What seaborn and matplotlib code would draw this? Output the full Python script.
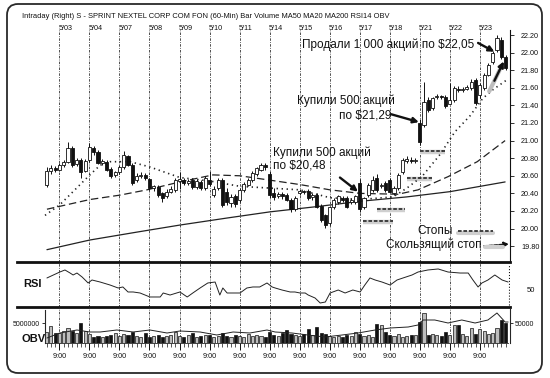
import numpy as np
import pandas as pd
import matplotlib
matplotlib.use("Agg")
import matplotlib.pyplot as plt
import matplotlib.transforms as mtransforms
from matplotlib.patches import FancyBboxPatch
from matplotlib.lines import Line2D
import seaborn as sns

# ---------------- data ----------------
title = "Intraday (Right) S - SPRINT NEXTEL CORP COM FON (60-Min) Bar Volume MA50 MA20 MA200 RSI14 OBV"
days = ["5/03", "5/04", "5/07", "5/08", "5/09", "5/10", "5/11", "5/14",
        "5/15", "5/16", "5/17", "5/18", "5/21", "5/22", "5/23"]
bars_before = 3
bars_per_day = 7

opens = [20.50, 20.66, 20.69,
         20.67, 20.72, 20.76, 20.92, 20.73, 20.78, 20.66,
         20.78, 20.92, 20.87, 20.75, 20.76, 20.68, 20.61,
         20.64, 20.70, 20.82, 20.72, 20.55, 20.60, 20.61,
         20.56, 20.46, 20.47, 20.40, 20.37, 20.42, 20.44,
         20.54, 20.55, 20.52, 20.55, 20.47, 20.53, 20.46,
         20.55, 20.38, 20.46, 20.55, 20.42, 20.29, 20.37,
         20.32, 20.44, 20.50, 20.55, 20.62, 20.67, 20.72,
         20.62, 20.40, 20.37, 20.39, 20.38, 20.33, 20.22,
         20.40, 20.42, 20.43, 20.36, 20.38, 20.26, 20.15,
         20.06, 20.24, 20.30, 20.35, 20.35, 20.30, 20.30,
         20.52, 20.25, 20.38, 20.44, 20.58, 20.48, 20.52,
         20.55, 20.40, 20.46, 20.64, 20.77, 20.78, 20.77,
         21.20, 21.18, 21.46, 21.37, 21.49, 21.50, 21.50,
         21.42, 21.46, 21.59, 21.57, 21.59, 21.60, 21.69,
         21.52, 21.60, 21.75, 21.89, 22.03, 22.14, 21.95]
highs = [20.70, 20.72, 20.71,
         20.74, 20.78, 20.98, 20.94, 20.80, 20.80, 20.79,
         20.97, 20.94, 20.89, 20.79, 20.78, 20.70, 20.66,
         20.72, 20.88, 20.84, 20.74, 20.63, 20.64, 20.63,
         20.58, 20.50, 20.49, 20.42, 20.45, 20.48, 20.57,
         20.64, 20.57, 20.56, 20.57, 20.56, 20.55, 20.60,
         20.66, 20.48, 20.58, 20.57, 20.46, 20.39, 20.39,
         20.46, 20.53, 20.57, 20.65, 20.70, 20.74, 20.74,
         20.66, 20.46, 20.42, 20.41, 20.40, 20.35, 20.37,
         20.45, 20.44, 20.45, 20.40, 20.40, 20.28, 20.17,
         20.26, 20.35, 20.38, 20.37, 20.37, 20.35, 20.38,
         20.56, 20.36, 20.52, 20.60, 20.62, 20.52, 20.54,
         20.57, 20.48, 20.63, 20.80, 20.82, 20.81, 20.80,
         21.24, 21.67, 21.50, 21.50, 21.53, 21.52, 21.52,
         21.66, 21.62, 21.62, 21.61, 21.63, 21.70, 21.71,
         21.65, 21.77, 21.88, 22.02, 22.20, 22.18, 21.97]
lows = [20.47, 20.62, 20.64,
        20.65, 20.70, 20.74, 20.70, 20.71, 20.58, 20.64,
        20.76, 20.84, 20.73, 20.72, 20.66, 20.58, 20.59,
        20.62, 20.68, 20.71, 20.50, 20.53, 20.57, 20.55,
        20.44, 20.43, 20.36, 20.30, 20.35, 20.40, 20.42,
        20.45, 20.50, 20.49, 20.45, 20.45, 20.44, 20.44,
        20.48, 20.36, 20.44, 20.25, 20.27, 20.25, 20.24,
        20.30, 20.42, 20.48, 20.53, 20.60, 20.65, 20.67,
        20.35, 20.33, 20.35, 20.34, 20.31, 20.19, 20.20,
        20.38, 20.39, 20.33, 20.33, 20.23, 20.08, 20.01,
        20.04, 20.22, 20.28, 20.30, 20.23, 20.28, 20.28,
        20.19, 20.22, 20.36, 20.42, 20.42, 20.46, 20.42,
        20.40, 20.38, 20.44, 20.62, 20.74, 20.75, 20.74,
        20.95, 21.15, 21.33, 21.35, 21.47, 21.47, 21.37,
        21.40, 21.44, 21.55, 21.55, 21.57, 21.58, 21.40,
        21.48, 21.58, 21.73, 21.87, 22.01, 21.93, 21.80]
closes = [20.66, 20.69, 20.67,
          20.72, 20.76, 20.92, 20.72, 20.78, 20.64, 20.77,
          20.93, 20.87, 20.75, 20.77, 20.67, 20.60, 20.64,
          20.70, 20.84, 20.72, 20.52, 20.60, 20.61, 20.58,
          20.46, 20.48, 20.38, 20.35, 20.42, 20.45, 20.55,
          20.56, 20.52, 20.54, 20.47, 20.54, 20.46, 20.57,
          20.51, 20.45, 20.55, 20.27, 20.30, 20.36, 20.28,
          20.44, 20.51, 20.55, 20.63, 20.69, 20.72, 20.70,
          20.38, 20.36, 20.39, 20.37, 20.33, 20.22, 20.35,
          20.43, 20.41, 20.35, 20.38, 20.25, 20.10, 20.04,
          20.25, 20.33, 20.37, 20.33, 20.25, 20.33, 20.37,
          20.22, 20.35, 20.50, 20.55, 20.44, 20.50, 20.44,
          20.42, 20.46, 20.61, 20.78, 20.79, 20.77, 20.78,
          20.98, 21.44, 21.35, 21.48, 21.50, 21.49, 21.39,
          21.46, 21.60, 21.57, 21.59, 21.61, 21.67, 21.43,
          21.63, 21.75, 21.86, 22.00, 22.17, 21.95, 21.82]
volume_mln = [2.75, 4.25, 2.5,
              2.5, 3.0, 3.75, 3.0, 2.5, 5.0, 3.0,
              2.25, 1.5, 1.75, 1.5, 1.75, 2.0, 2.5,
              1.75, 2.25, 2.0, 2.75, 1.75, 1.5, 2.5,
              1.5, 1.75, 2.0, 1.5, 1.75, 2.0, 2.75,
              1.75, 1.5, 2.0, 2.5, 1.5, 1.75, 2.0,
              2.0, 1.5, 1.75, 2.5, 1.75, 1.5, 2.0,
              1.75, 1.5, 2.25, 1.75, 2.0, 1.75, 1.5,
              2.75, 2.0, 1.75, 2.5, 3.25, 2.25, 2.0,
              1.75, 2.25, 3.5, 2.0, 4.0, 2.5, 2.25,
              1.75, 1.5, 1.75, 1.5, 2.0, 1.75, 2.75,
              2.25, 1.75, 2.0, 1.5, 4.75, 4.5, 2.75,
              2.0, 1.75, 2.25, 1.5, 1.75, 2.0, 2.0,
              5.25, 7.5, 2.0, 2.25, 2.0, 1.75, 2.75,
              2.0, 4.5, 4.5, 2.25, 1.75, 3.75, 2.25,
              3.5, 3.0, 2.25, 2.5, 3.75, 5.75, 5.0]

ma20_x = [-0.35, 3.1, 6.6, 10.1, 12.5, 14.8, 19.5, 24.1, 31.1, 38.1, 45.1, 52.1,
          59.1, 66.1, 73.1, 80.8, 84.0, 87.5, 91.7, 95.2, 98.7, 101.7, 104.1, 107.3]
ma20_y = [20.15, 20.27, 20.44, 20.61, 20.72, 20.76, 20.76, 20.70, 20.58, 20.54, 20.48, 20.46,
          20.44, 20.35, 20.33, 20.36, 20.46, 20.59, 20.84, 21.10, 21.28, 21.48, 21.58, 21.69]
ma50_x = [0.1, 10.1, 17.1, 23.4, 31.1, 38.8, 45.1, 52.1, 59.1, 66.1, 73.1, 81.9,
          86.6, 93.6, 100.4, 106.9]
ma50_y = [20.22, 20.33, 20.38, 20.44, 20.53, 20.61, 20.60, 20.55, 20.50, 20.44, 20.40, 20.39,
          20.44, 20.59, 20.76, 21.00]
ma200_x = [0.1, 10.1, 21.1, 31.1, 42.1, 52.1, 63.1, 73.1, 84.0, 94.1, 106.9]
ma200_y = [19.76, 19.87, 19.96, 20.04, 20.12, 20.19, 20.25, 20.31, 20.36, 20.42, 20.53]

rsi_x = [0.1, 3.1, 4.3, 5.5, 6.2, 7.1, 8.3, 9.7, 10.6, 12.5, 14.8, 16.7, 17.8, 19.0, 20.2,
         21.8, 24.1, 26.5, 27.2, 28.8, 31.1, 32.8, 34.1, 35.8, 37.6, 39.3, 40.4, 41.1, 42.1,
         43.5, 45.1, 46.7, 48.1, 49.7, 51.4, 52.6, 53.3, 54.9, 56.8, 57.9, 59.1, 60.3, 61.0,
         62.6, 63.8, 65.0, 66.1, 68.0, 69.6, 71.4, 73.1, 74.2, 75.4, 76.6, 78.2, 80.1, 81.7,
         83.1, 85.2, 86.6, 88.9, 91.3, 93.6, 96.4, 98.3, 99.4, 100.6, 101.5, 102.9, 104.5,
         106.2, 107.6]
rsi_y = [69.6, 80.2, 83.8, 78.4, 74.9, 78.4, 71.3, 60.7, 66.0, 62.4, 57.1, 51.8, 53.6, 44.7,
         44.7, 42.9, 35.8, 35.8, 42.9, 39.3, 44.7, 35.8, 42.9, 51.8, 60.7, 62.4, 39.3, 51.8,
         42.9, 42.9, 42.9, 51.8, 53.6, 53.6, 60.7, 53.6, 51.8, 48.2, 44.7, 44.7, 42.9, 42.9,
         39.3, 34.0, 25.1, 26.9, 42.9, 48.2, 42.9, 48.2, 44.7, 57.1, 69.6, 66.0, 62.4, 57.1,
         66.0, 69.6, 74.9, 80.2, 83.8, 85.6, 80.2, 78.4, 78.4, 66.0, 53.6, 60.7, 66.0, 74.9,
         66.0, 62.4]

obv_x = [0.1, 3.1, 7.1, 10.1, 12.5, 16.4, 20.2, 24.1, 28.1, 31.1, 35.8, 39.7, 43.5, 47.4,
         51.4, 53.3, 57.2, 60.9, 64.9, 68.9, 72.6, 76.6, 80.1, 84.3, 86.6, 87.8, 90.5, 93.6,
         96.8, 99.9, 102.9, 105.0, 106.9, 107.6]
obv_y = [12500, 25000, 32500, 27500, 27500, 32500, 27500, 32500, 25000, 30000, 27500, 20000,
         27500, 25000, 32500, 27500, 25000, 20000, 15000, 20000, 25000, 32500, 37500, 40000,
         45000, 57500, 57500, 50000, 57500, 50000, 57500, 75000, 52500, 52500]

price_ticks = [19.80, 20.00, 20.20, 20.40, 20.60, 20.80, 21.00, 21.20, 21.40, 21.60, 21.80,
               22.00, 22.20]

stop_start = [73.8, 77.0, 84.0, 87.0]
stop_end = [80.8, 83.6, 89.9, 92.9]
stop_level = [20.09, 20.22, 20.58, 20.88]

# ---------------- style / layout ----------------
sns.set_theme(style="white")
plt.rcParams["font.family"] = ["Liberation Sans", "DejaVu Sans"]
INK = "#111111"

W, H = 550, 378
fig = plt.figure(figsize=(W / 100, H / 100), dpi=100)
fig.patch.set_facecolor("white")

def fx(px):
    return px / W

def fy(py):
    return 1 - py / H

L, R = 17, 510
ax = fig.add_axes([fx(L), fy(262), (R - L) / W, (262 - 30) / H])
ax_rsi = fig.add_axes([fx(L), fy(307), (R - L) / W, 45 / H])
ax_obv = fig.add_axes([fx(L), fy(343), (R - L) / W, 36 / H])
xlim = (-6.88, 108.04)

n = len(closes)
idx = np.arange(n)
o = np.array(opens); c = np.array(closes); hi = np.array(highs); lo = np.array(lows)
up = c >= o
day_starts = [bars_before + k * bars_per_day for k in range(len(days))]

for a in (ax, ax_rsi, ax_obv):
    a.set_facecolor("none")
    a.set_xlim(*xlim)
    for s in a.spines.values():
        s.set_visible(False)
    a.grid(False)
    for d in day_starts:
        a.axvline(d, color="#333333", lw=0.6, ls=(0, (3, 1.5, 1, 1.5)), zorder=1)

# ---- main price panel ----
ax.set_ylim(19.62, 22.257)
ax.vlines(idx, lo, hi, color=INK, lw=0.7, zorder=4)
body_b = np.minimum(o, c)
body_h = np.maximum(np.abs(c - o), 0.012)
ax.bar(idx, body_h, bottom=body_b, width=0.72,
       color=np.where(up, "white", INK), edgecolor=INK, linewidth=0.6, zorder=5)

sns.lineplot(x=ma20_x, y=ma20_y, ax=ax, color="#222222", lw=1.2,
             linestyle=(0, (0.8, 2.2)), zorder=3, legend=False)
sns.lineplot(x=ma50_x, y=ma50_y, ax=ax, color="#222222", lw=0.9,
             linestyle=(0, (6, 3)), zorder=3, legend=False)
sns.lineplot(x=ma200_x, y=ma200_y, ax=ax, color="#222222", lw=0.9, zorder=3, legend=False)

for x0, x1, lv in zip(stop_start, stop_end, stop_level):
    ax.plot([x0, x1], [lv - 0.012, lv - 0.012], color="#cfcfcf", lw=3.2,
            solid_capstyle="butt", zorder=2)
    ax.plot([x0, x1], [lv, lv], color="#333333", lw=1.3, ls=(0, (2, 1)), zorder=6)

ax.spines["right"].set_visible(True)
ax.spines["right"].set_linewidth(0.8)
ax.spines["right"].set_color(INK)
ax.yaxis.tick_right()
ax.set_yticks(price_ticks)
ax.set_yticklabels([f"{v:.2f}" for v in price_ticks])
ax.tick_params(axis="y", direction="out", length=3, width=0.6, labelsize=5.2, pad=5,
               colors=INK, right=True, left=False)
ax.tick_params(axis="x", bottom=False, labelbottom=False)
ax.set_xlabel(""); ax.set_ylabel("")

# arrows in the price panel
arw = dict(arrowstyle="-|>", lw=1.7, color=INK, mutation_scale=8, shrinkA=0, shrinkB=0)
ax.annotate("", xy=(104.4, 22.01), xytext=(100.6, 22.11), arrowprops=arw, zorder=8)
ax.annotate("", xy=(86.8, 21.21), xytext=(80.3, 21.30), arrowprops=arw, zorder=8)
ax.annotate("", xy=(72.6, 20.42), xytext=(68.4, 20.58), arrowprops=arw, zorder=8)
ax.plot([103.2, 105.6], [21.56, 21.80], color="#bdbdbd", lw=3, solid_capstyle="round", zorder=6)
ax.annotate("", xy=(106.6, 21.90), xytext=(104.4, 21.68), arrowprops=arw, zorder=8)

# date labels on top
blend = mtransforms.blended_transform_factory(ax.transData, fig.transFigure)
for d, lab in zip(day_starts, days):
    ax.text(d + 1.4, fy(28), lab, transform=blend, fontsize=5.2, ha="center",
            va="center", color=INK)

# ---- RSI panel ----
ax_rsi.set_ylim(18, 98)
sns.lineplot(x=rsi_x, y=rsi_y, ax=ax_rsi, color="#222222", lw=0.7, legend=False)
ax_rsi.spines["top"].set_visible(True)
ax_rsi.spines["bottom"].set_visible(True)
for s in ("top", "bottom"):
    ax_rsi.spines[s].set_linewidth(2.0)
    ax_rsi.spines[s].set_color(INK)
ax_rsi.vlines(107.8, 22, 94, color=INK, lw=0.8, ls=":")
ax_rsi.yaxis.tick_right()
ax_rsi.set_yticks([50])
ax_rsi.set_yticklabels(["50"])
ax_rsi.tick_params(axis="y", length=0, labelsize=5.5, pad=12, colors=INK)
ax_rsi.tick_params(axis="x", bottom=False, labelbottom=False)
ax_rsi.set_xlabel(""); ax_rsi.set_ylabel("")

# ---- Volume / OBV panel ----
vol = np.array(volume_mln) * 1e6
ax_obv.set_ylim(0, 9.0e6)
ax_obv.bar(idx, vol, width=0.72, color=np.where(up, "#bdbdbd", INK),
           edgecolor=INK, linewidth=0.5, zorder=3)
ax_obv.spines["left"].set_visible(True)
ax_obv.spines["left"].set_position(("data", -0.4))
ax_obv.spines["left"].set_linewidth(0.8)
ax_obv.spines["left"].set_bounds(0, 8.3e6)
ax_obv.spines["bottom"].set_visible(True)
ax_obv.spines["bottom"].set_linewidth(0.6)
ax_obv.spines["bottom"].set_bounds(-0.4, 107.6)
ax_obv.set_yticks([5e6])
ax_obv.set_yticklabels(["5000000"])
ax_obv.tick_params(axis="y", direction="out", length=2.5, width=0.6, labelsize=5,
                   pad=1, colors=INK, left=True)
ax_obv.set_xticks(day_starts)
ax_obv.set_xticklabels(["9:00"] * len(day_starts))
ax_obv.set_xticks(idx, minor=True)
ax_obv.tick_params(axis="x", which="major", direction="out", length=5, width=0.7,
                   labelsize=5.2, pad=2, colors=INK, bottom=True)
ax_obv.tick_params(axis="x", which="minor", direction="out", length=3, width=0.5,
                   colors=INK, bottom=True)
ax_obv.set_xlabel(""); ax_obv.set_ylabel("")

ax_obv2 = ax_obv.twinx()
ax_obv2.set_xlim(*xlim)
ax_obv2.set_ylim(0, 90000)
sns.lineplot(x=obv_x, y=obv_y, ax=ax_obv2, color="#222222", lw=0.7, legend=False)
for s in ax_obv2.spines.values():
    s.set_visible(False)
ax_obv2.spines["right"].set_visible(True)
ax_obv2.spines["right"].set_linewidth(0.8)
ax_obv2.spines["right"].set_bounds(0, 85000)
ax_obv2.set_yticks([50000])
ax_obv2.set_yticklabels(["50000"])
ax_obv2.tick_params(axis="y", direction="out", length=2.5, width=0.6, labelsize=5,
                    pad=1, colors=INK, right=True)
ax_obv2.set_xlabel(""); ax_obv2.set_ylabel("")
ax_obv2.grid(False)

# ---- texts ----
fig.text(fx(22), fy(17), title, fontsize=5.45, ha="left", va="center", color=INK)
fs = 8.5
fig.text(fx(302), fy(45), "Продали 1 000 акций по $22,05", fontsize=fs, ha="left",
         va="center", color=INK)
fig.text(fx(297), fy(101), "Купили 500 акций", fontsize=fs, ha="left", va="center", color=INK)
fig.text(fx(391), fy(116), "по $21,29", fontsize=fs, ha="right", va="center", color=INK)
fig.text(fx(273), fy(153), "Купили 500 акций", fontsize=fs, ha="left", va="center", color=INK)
fig.text(fx(273), fy(166), "по $20,48", fontsize=fs, ha="left", va="center", color=INK)
fig.text(fx(453), fy(231), "Стопы", fontsize=fs, ha="right", va="center", color=INK)
fig.text(fx(482), fy(245), "Скользящий стоп", fontsize=fs, ha="right", va="center", color=INK)
fig.text(fx(23), fy(284), "RSI", fontsize=8, weight="bold", ha="left", va="center", color=INK)
fig.text(fx(22), fy(339), "OBV", fontsize=8, weight="bold", ha="left", va="center", color=INK)

# legend sample for stops + trailing stop arrow
fig.add_artist(Line2D([fx(458), fx(493)], [fy(233), fy(233)], color="#cfcfcf", lw=3,
                      transform=fig.transFigure))
fig.add_artist(Line2D([fx(458), fx(493)], [fy(231), fy(231)], color="#333333", lw=1.3,
                      ls=(0, (2, 1)), transform=fig.transFigure))
fig.add_artist(Line2D([fx(485), fx(503)], [fy(247), fy(247)], color="#cfcfcf", lw=3,
                      transform=fig.transFigure))
ax.annotate("", xy=(fx(509), fy(244)), xytext=(fx(484), fy(246)),
            xycoords=fig.transFigure, textcoords=fig.transFigure,
            arrowprops=dict(arrowstyle="-|>", lw=1.2, color=INK, ls=(0, (2, 1)),
                            mutation_scale=7, shrinkA=0, shrinkB=0), annotation_clip=False)

# outer rounded frame
frame = FancyBboxPatch((fx(7), fy(373)), (542 - 7) / W, (373 - 4) / H,
                       boxstyle="round,pad=0,rounding_size=0.02",
                       transform=fig.transFigure, fill=False, lw=1.3, ec="#2a2a2a",
                       mutation_aspect=W / H)
fig.add_artist(frame)

fig.savefig("out.png", dpi=100, facecolor="white")
